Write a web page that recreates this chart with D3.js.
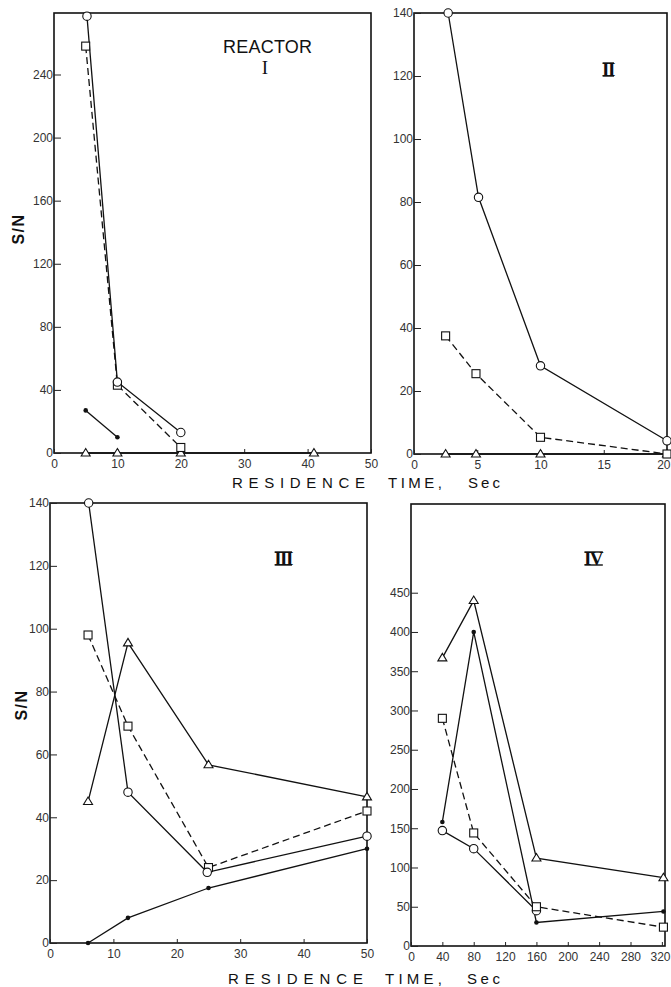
<!DOCTYPE html>
<html>
<head>
<meta charset="utf-8">
<script src="https://cdn.jsdelivr.net/npm/d3@7"></script>
<style>
  html, body { margin: 0; padding: 0; background: #fff; }
  svg { display: block; }
  .tick text { font-family: "Liberation Sans", Arial, sans-serif; font-size: 12px; fill: #333; }
  .tick line { stroke: #222; stroke-width: 1; }
</style>
</head>
<body>
<svg id="chart" width="671" height="987"></svg>
<script>
// ---------------- DATA ----------------
// Reactor I  (x = residence time, sec ; y = S/N)
const r1Circle   = [[5.2, 277], [10, 45], [20, 13]];
const r1Square   = [[5, 258], [10, 43], [20, 3.5]];
const r1Dot      = [[5, 27], [10, 10]];
const r1Triangle = [[5, 0], [10, 0], [20, 0], [41, 0]];
const r1XTicks = [0, 10, 20, 30, 40, 50];
const r1YTicks = [0, 40, 80, 120, 160, 200, 240];

// Reactor II
const r2Circle   = [[2.7, 140], [5.1, 81.5], [10, 28], [20, 4.2]];
const r2Square   = [[2.5, 37.5], [4.9, 25.5], [10, 5.3], [20, 0]];
const r2Triangle = [[2.5, 0], [4.9, 0], [10, 0], [20, 0]];
const r2XTicks = [0, 5, 10, 15, 20];
const r2YTicks = [0, 20, 40, 60, 80, 100, 120, 140];

// Reactor III
const r3Circle   = [[6.1, 140], [12.3, 48], [24.8, 22.5], [50, 34]];
const r3Square   = [[6, 98], [12.3, 69], [25, 24], [50, 42]];
const r3Triangle = [[6, 45], [12.3, 95.5], [25, 56.7], [50, 46.5]];
const r3Dot      = [[6, 0], [12.3, 8], [25, 17.5], [50, 30]];
const r3XTicks = [0, 10, 20, 30, 40, 50];
const r3YTicks = [0, 20, 40, 60, 80, 100, 120, 140];

// Reactor IV
const r4Triangle = [[40, 367], [80, 440], [160, 112], [322, 87]];
const r4Dot      = [[40, 158], [80, 400], [160, 30], [322, 44]];
const r4Square   = [[40, 290], [80, 144], [160, 50], [322, 24]];
const r4Circle   = [[40, 147], [80, 124], [160, 45]];
const r4XTicks = [0, 40, 80, 120, 160, 200, 240, 280, 320];
const r4YTicks = [0, 50, 100, 150, 200, 250, 300, 350, 400, 450];

const panelLabels = ["I", "II", "III", "IV"];
const yTitle = "S/N";
const xTitleWords = ["RESIDENCE", "TIME,", "Sec"];

// ---------------- LAYOUT ----------------
const panels = [
  { box: {l: 54,  r: 371, t: 13,  b: 453}, xDom: [0, 50],  yDom: [0, 279], xt: r1XTicks, yt: r1YTicks,
    series: [
      {d: r1Triangle, m: "tri", dash: null},
      {d: r1Dot, m: "dot", dash: null},
      {d: r1Square, m: "sq", dash: "7,4"},
      {d: r1Circle, m: "circ", dash: null}
    ], label: {i: 0, x: 265, y: 74, bars: false} },
  { box: {l: 414, r: 667, t: 13,  b: 454}, xDom: [0, 20],  yDom: [0, 140], xt: r2XTicks, yt: r2YTicks,
    series: [
      {d: r2Triangle, m: "tri", dash: null},
      {d: r2Square, m: "sq", dash: "7,4"},
      {d: r2Circle, m: "circ", dash: null}
    ], label: {i: 1, x: 608, y: 76, bars: true} },
  { box: {l: 50,  r: 367, t: 503, b: 943}, xDom: [0, 50],  yDom: [0, 140], xt: r3XTicks, yt: r3YTicks,
    series: [
      {d: r3Dot, m: "dot", dash: null},
      {d: r3Triangle, m: "tri", dash: null},
      {d: r3Square, m: "sq", dash: "7,4"},
      {d: r3Circle, m: "circ", dash: null}
    ], label: {i: 2, x: 283, y: 565, bars: true} },
  { box: {l: 411, r: 665, t: 504, b: 946}, xDom: [0, 324], yDom: [0, 563], xt: r4XTicks, yt: r4YTicks,
    series: [
      {d: r4Circle, m: "circ", dash: null},
      {d: r4Square, m: "sq", dash: "7,4"},
      {d: r4Dot, m: "dot", dash: null},
      {d: r4Triangle, m: "tri", dash: null}
    ], label: {i: 3, x: 593, y: 565, bars: true} }
];

const svg = d3.select("#chart");
const INK = "#111";
const W = 671;

panels.forEach(p => {
  const x = d3.scaleLinear().domain(p.xDom).range([p.box.l, p.box.r]);
  const y = d3.scaleLinear().domain(p.yDom).range([p.box.b, p.box.t]);
  const g = svg.append("g");

  // frame
  g.append("rect")
    .attr("x", p.box.l).attr("y", p.box.t)
    .attr("width", p.box.r - p.box.l).attr("height", p.box.b - p.box.t)
    .attr("fill", "none").attr("stroke", INK).attr("stroke-width", 1.6);

  // axes
  const yAxis = d3.axisLeft(y).tickValues(p.yt).tickSizeInner(-7).tickSizeOuter(0).tickPadding(1)
    .tickFormat(d3.format("d"));
  g.append("g").attr("transform", `translate(${p.box.l},0)`).call(yAxis)
    .call(s => s.select(".domain").remove());
  const xAxis = d3.axisBottom(x).tickValues(p.xt).tickSizeInner(-4).tickSizeOuter(0).tickPadding(6)
    .tickFormat(d3.format("d"));
  const xg = g.append("g").attr("transform", `translate(0,${p.box.b})`).call(xAxis)
    .call(s => s.select(".domain").remove());
  // keep edge labels inside the page
  xg.selectAll(".tick text").each(function(d) {
    const bb = this.getBBox();
    const px = x(d);
    if (px + bb.width / 2 > W - 1) {
      d3.select(this).attr("text-anchor", "end").attr("x", (W - 1) - px);
    }
  });

  const line = d3.line().x(d => x(d[0])).y(d => y(d[1]));

  // lines
  p.series.forEach(s => {
    g.append("path").datum(s.d)
      .attr("d", line)
      .attr("fill", "none").attr("stroke", INK).attr("stroke-width", 1.3)
      .attr("stroke-dasharray", s.dash);
  });

  // markers
  p.series.forEach(s => {
    const mg = g.append("g");
    s.d.forEach(d => {
      const cx = x(d[0]), cy = y(d[1]);
      if (s.m === "circ") {
        mg.append("circle").attr("cx", cx).attr("cy", cy).attr("r", 4.2)
          .attr("fill", "#fff").attr("stroke", INK).attr("stroke-width", 1.1);
      } else if (s.m === "sq") {
        mg.append("rect").attr("x", cx - 4).attr("y", cy - 4).attr("width", 8).attr("height", 8)
          .attr("fill", "#fff").attr("stroke", INK).attr("stroke-width", 1.1);
      } else if (s.m === "tri") {
        mg.append("path").attr("d", `M${cx},${cy - 4.5} L${cx + 4.5},${cy + 3} L${cx - 4.5},${cy + 3} Z`)
          .attr("fill", "#fff").attr("stroke", INK).attr("stroke-width", 1.1);
      } else if (s.m === "dot") {
        mg.append("circle").attr("cx", cx).attr("cy", cy).attr("r", 2.3).attr("fill", INK);
      }
    });
  });

  // roman numeral label
  const t = g.append("text")
    .attr("x", p.label.x).attr("y", p.label.y)
    .attr("text-anchor", "middle")
    .attr("font-family", "Liberation Serif, Times New Roman, serif")
    .attr("font-size", 19).attr("font-weight", p.label.bars ? "bold" : "normal")
    .attr("letter-spacing", p.label.bars ? -1.5 : 0)
    .attr("fill", INK)
    .text(panelLabels[p.label.i]);
  if (p.label.bars) {
    const bb = t.node().getBBox();
    const top = p.label.y - 13, bot = p.label.y;
    [top, bot].forEach(yy => {
      g.append("line").attr("x1", bb.x + 0.5).attr("x2", bb.x + bb.width - 1)
        .attr("y1", yy).attr("y2", yy).attr("stroke", INK).attr("stroke-width", 1.4);
    });
  }
});

// REACTOR caption
svg.append("text")
  .attr("x", 223).attr("y", 53)
  .attr("font-family", "Liberation Sans, Arial, sans-serif")
  .attr("font-size", 18).attr("fill", INK)
  .attr("textLength", 89).attr("lengthAdjust", "spacing")
  .text("REACTOR");

// Y titles
[[18, 229], [21, 705]].forEach(([cx, cy]) => {
  svg.append("text")
    .attr("transform", `translate(${cx},${cy}) rotate(-90)`)
    .attr("text-anchor", "middle").attr("dy", "0.35em")
    .attr("font-family", "Liberation Sans, Arial, sans-serif")
    .attr("font-size", 16).attr("font-weight", "bold").attr("fill", INK)
    .attr("letter-spacing", 1.5)
    .text(yTitle);
});

// X titles
const xTitleRows = [
  {base: 487.5, pos: [[232, 133], [388, 54], [468, 32]]},
  {base: 983.5, pos: [[228, 135], [385, 57], [467, 33]]}
];
xTitleRows.forEach(row => {
  xTitleWords.forEach((w, i) => {
    svg.append("text")
      .attr("x", row.pos[i][0]).attr("y", row.base)
      .attr("font-family", "Liberation Sans, Arial, sans-serif")
      .attr("font-size", 15).attr("fill", INK)
      .attr("textLength", row.pos[i][1]).attr("lengthAdjust", "spacing")
      .text(w);
  });
});
</script>
</body>
</html>
